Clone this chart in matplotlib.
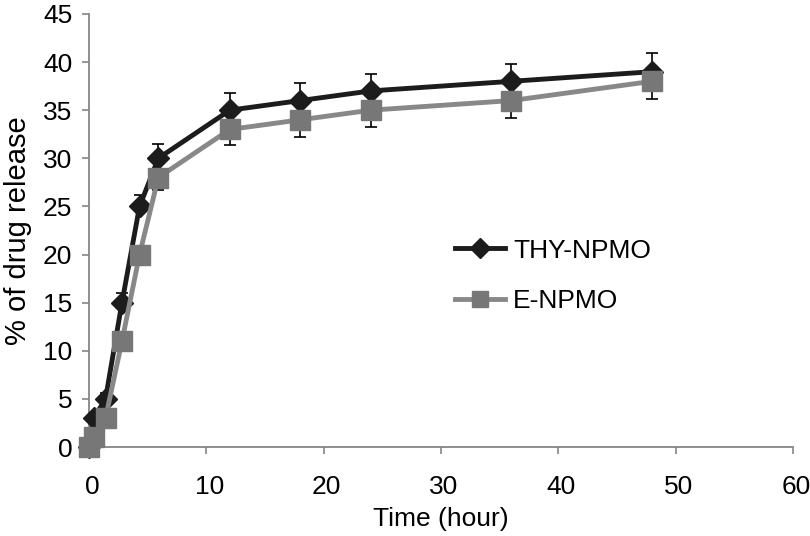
import matplotlib
matplotlib.use("Agg")
import matplotlib.pyplot as plt
import matplotlib.transforms as mtransforms

plt.rcParams["font.family"] = ["Liberation Sans", "DejaVu Sans"]

time_h = [0, 0.4, 1.4, 2.8, 4.3, 5.9, 12, 18, 24, 36, 48]
thy_release = [0, 3, 5, 15, 25, 30, 35, 36, 37, 38, 39]
thy_err = [0, 0.5, 0.6, 1.0, 1.2, 1.5, 1.8, 1.8, 1.8, 1.8, 1.9]
e_release = [0, 1, 3, 11, 20, 28, 33, 34, 35, 36, 38]
e_err = [0, 0.4, 0.5, 0.8, 1.0, 1.3, 1.6, 1.8, 1.7, 1.8, 1.8]

x_ticks = [0, 10, 20, 30, 40, 50, 60]
y_ticks = [0, 5, 10, 15, 20, 25, 30, 35, 40, 45]

AXIS_GRAY = "#868686"
FS = 19


def main():
    fig = plt.figure(figsize=(8.1, 5.36), dpi=100)
    ax = fig.add_axes([0.110, 0.166, 0.869, 0.808])

    # black series (with upward error bars)
    ax.errorbar(time_h, thy_release, yerr=[[0] * len(thy_err), thy_err],
                fmt="none", ecolor="black", elinewidth=1.2, capsize=4.5,
                capthick=1.2, zorder=2, clip_on=False)
    ax.plot(time_h, thy_release, color="#1c1c1c", lw=3.5, marker="D",
            markersize=11.5, markerfacecolor="#1c1c1c", markeredgecolor="#1c1c1c",
            label="THY-NPMO", zorder=3, clip_on=False)

    # gray series (with downward error bars)
    ax.errorbar(time_h, e_release, yerr=[e_err, [0] * len(e_err)],
                fmt="none", ecolor="black", elinewidth=1.2, capsize=4.5,
                capthick=1.2, zorder=4, clip_on=False)
    ax.plot(time_h, e_release, color="#888888", lw=3.5, marker="s",
            markersize=14, markerfacecolor="#777777", markeredgecolor="#777777",
            label="E-NPMO", zorder=5, clip_on=False)

    ax.set_xlim(0, 60)
    ax.set_ylim(0, 45)
    ax.set_xticks(x_ticks)
    ax.set_yticks(y_ticks)

    for side in ["top", "right"]:
        ax.spines[side].set_visible(False)
    for side in ["left", "bottom"]:
        ax.spines[side].set_color(AXIS_GRAY)
        ax.spines[side].set_linewidth(1.3)

    ax.tick_params(axis="both", direction="out", length=5, width=1.2,
                   color=AXIS_GRAY, labelsize=FS, labelcolor="black")
    ax.tick_params(axis="y", pad=7)
    ax.tick_params(axis="x", pad=15)

    # excel-like slight right shift of x tick labels
    shift = mtransforms.ScaledTranslation(0.03, 0, fig.dpi_scale_trans)
    for lbl in ax.get_xticklabels():
        lbl.set_transform(lbl.get_transform() + shift)

    ax.set_xlabel("Time (hour)", fontsize=FS, labelpad=6)
    ax.set_ylabel("% of drug release", fontsize=21, labelpad=8)

    ax.legend(loc="upper left", bbox_to_anchor=(0.562, 0.555),
              bbox_transform=fig.transFigure, frameon=False, fontsize=FS,
              handlelength=1.9, handletextpad=0.3, labelspacing=1.0,
              borderpad=0, borderaxespad=0, markerscale=0.85)

    fig.savefig("out.png", dpi=100)


if __name__ == "__main__":
    main()
